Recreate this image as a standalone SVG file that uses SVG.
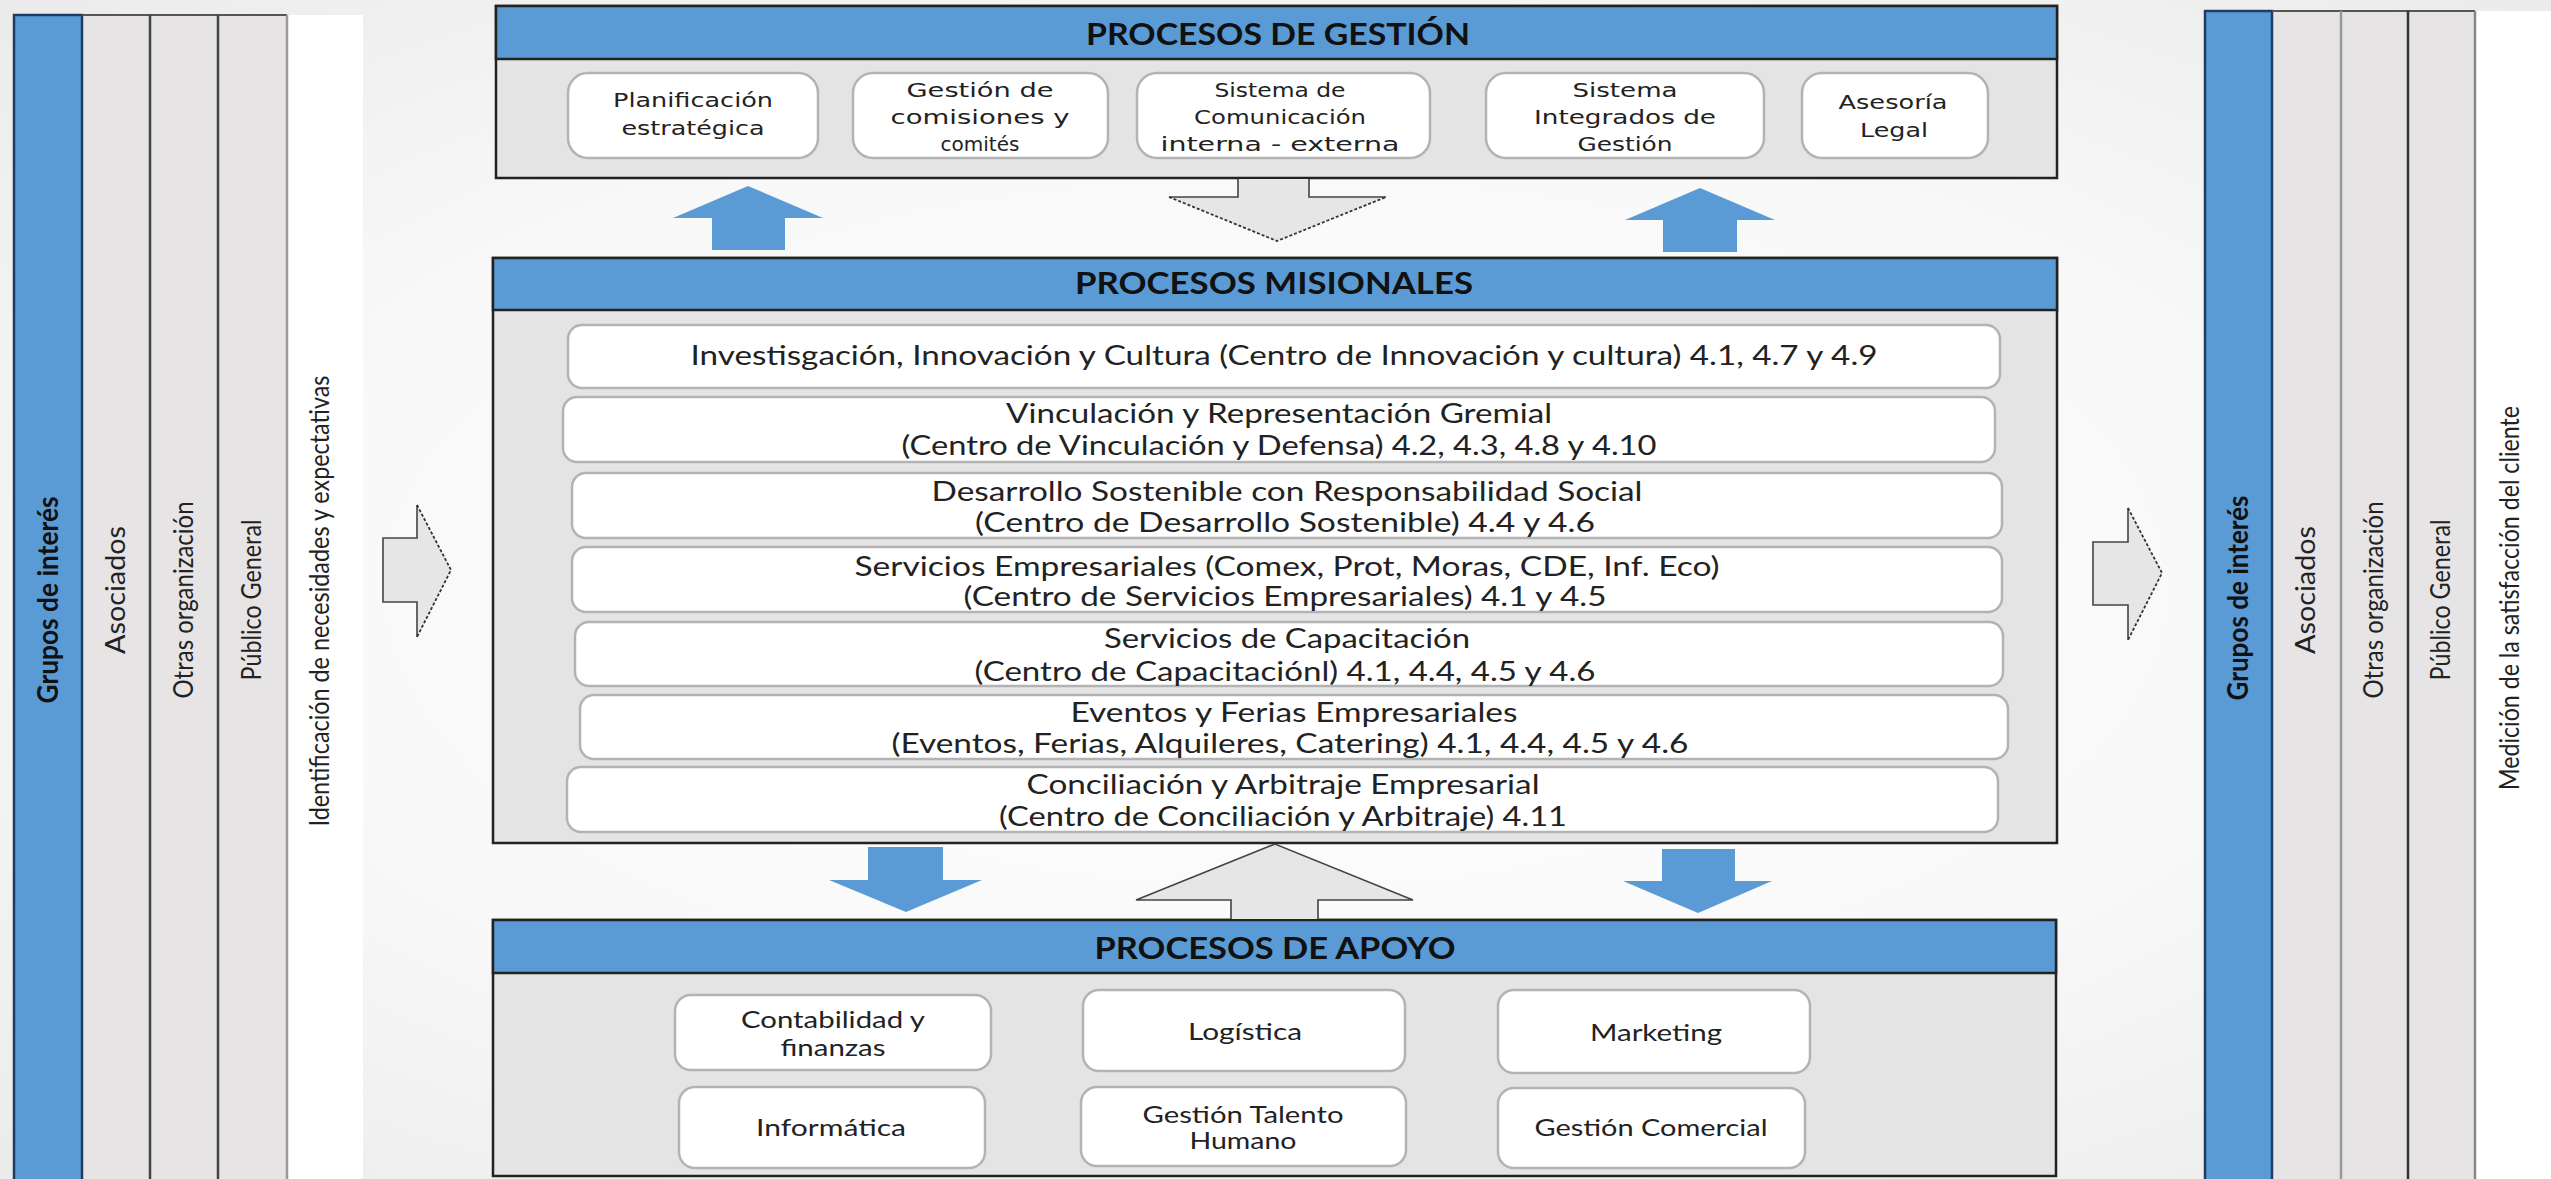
<svg xmlns="http://www.w3.org/2000/svg" width="2551" height="1179" viewBox="0 0 2551 1179">
<defs>
<radialGradient id="bg" cx="50%" cy="50%" r="75%">
<stop offset="0" stop-color="#ffffff"/>
<stop offset="0.55" stop-color="#f8f8f8"/>
<stop offset="1" stop-color="#e9e9e9"/>
</radialGradient>
<style>
.blue{fill:#5b9bd5}
.col{fill:#e6e4e5}
.body{fill:#e4e4e4;stroke:#222;stroke-width:2.5}
.hdr{fill:#5b9bd5;stroke:#222;stroke-width:2.5}
.card{fill:#ffffff;stroke:#b3b3b3;stroke-width:2.5}
.barrow{fill:#5b9bd5}
.garrow{fill:#e6e6e6;stroke:none}
.gline{fill:none;stroke:#444;stroke-width:1.6}
.gdash{fill:none;stroke:#333;stroke-width:1.8;stroke-dasharray:3 2}
.title{font-family:Lato,"Open Sans",sans-serif;font-weight:bold;font-size:30px;fill:#111;text-anchor:middle}
.tb{font-family:"DejaVu Sans","Open Sans",sans-serif;font-size:20px;fill:#222;text-anchor:middle}
.tm{font-family:Lato,"Open Sans",sans-serif;font-size:27px;fill:#222;text-anchor:middle}
.ta{font-family:Lato,"Open Sans",sans-serif;font-size:24px;fill:#222;text-anchor:middle}
.tv{font-family:Lato,"Open Sans",sans-serif;font-size:26px;fill:#222;text-anchor:middle}
.tvb{font-family:Lato,"Open Sans",sans-serif;font-size:28px;font-weight:bold;fill:#111;text-anchor:middle}
</style>
</defs>
<rect x="0" y="0" width="2551" height="1179" fill="url(#bg)"/>

<!-- LEFT stakeholder columns -->
<g id="left-columns">
<rect x="287" y="15" width="76" height="1170" fill="#ffffff"/>
<rect x="82" y="15" width="205" height="1170" class="col"/>
<rect x="14" y="15" width="68" height="1170" class="blue" stroke="#1f3d60" stroke-width="2.5"/>
<line x1="82" y1="15" x2="287" y2="15" stroke="#555" stroke-width="2"/>
<line x1="150" y1="15" x2="150" y2="1179" stroke="#444" stroke-width="2.5"/>
<line x1="218" y1="15" x2="218" y2="1179" stroke="#444" stroke-width="2.5"/>
<line x1="287" y1="15" x2="287" y2="1179" stroke="#999" stroke-width="2.5"/>
<text class="tvb" transform="translate(48,600) rotate(-90)" y="10" textLength="207" lengthAdjust="spacingAndGlyphs">Grupos de interés</text>
<text class="tv" transform="translate(116,590) rotate(-90)" y="9" textLength="128" lengthAdjust="spacingAndGlyphs">Asociados</text>
<text class="tv" transform="translate(184,600) rotate(-90)" y="9" textLength="197" lengthAdjust="spacingAndGlyphs">Otras organización</text>
<text class="tv" transform="translate(252,600) rotate(-90)" y="9" textLength="161" lengthAdjust="spacingAndGlyphs">Público General</text>
<text class="tv" transform="translate(320,601) rotate(-90)" y="9" textLength="451" lengthAdjust="spacingAndGlyphs">Identificación de necesidades y expectativas</text>
</g>

<!-- RIGHT stakeholder columns -->
<g id="right-columns">
<rect x="2475" y="11" width="76" height="1170" fill="#ffffff"/>
<rect x="2272" y="11" width="203" height="1170" class="col"/>
<rect x="2205" y="11" width="67" height="1170" class="blue" stroke="#1f3d60" stroke-width="2.5"/>
<line x1="2272" y1="11" x2="2475" y2="11" stroke="#555" stroke-width="2"/>
<line x1="2341" y1="11" x2="2341" y2="1179" stroke="#999" stroke-width="2.5"/>
<line x1="2408" y1="11" x2="2408" y2="1179" stroke="#333" stroke-width="2.5"/>
<line x1="2475" y1="11" x2="2475" y2="1179" stroke="#888" stroke-width="2.5"/>
<text class="tvb" transform="translate(2238,598) rotate(-90)" y="10" textLength="205" lengthAdjust="spacingAndGlyphs">Grupos de interés</text>
<text class="tv" transform="translate(2306,590) rotate(-90)" y="9" textLength="128" lengthAdjust="spacingAndGlyphs">Asociados</text>
<text class="tv" transform="translate(2374,600) rotate(-90)" y="9" textLength="197" lengthAdjust="spacingAndGlyphs">Otras organización</text>
<text class="tv" transform="translate(2441,600) rotate(-90)" y="9" textLength="161" lengthAdjust="spacingAndGlyphs">Público General</text>
<text class="tv" transform="translate(2510,598) rotate(-90)" y="9" textLength="384" lengthAdjust="spacingAndGlyphs">Medición de la satisfacción del cliente</text>
</g>

<!-- PROCESOS DE GESTIÓN -->
<g id="procesos-gestion">
<rect x="496" y="6" width="1561" height="172" class="body"/>
<rect x="496" y="6" width="1561" height="53" class="hdr"/>
<text class="title" x="1278" y="45" textLength="384" lengthAdjust="spacingAndGlyphs">PROCESOS DE GESTIÓN</text>
</g>
<g id="planificacion">
<rect x="568" y="73" width="250" height="85" rx="20" class="card"/>
<text class="tb" x="693" y="107" textLength="160" lengthAdjust="spacingAndGlyphs">Planificación</text>
<text class="tb" x="693" y="135" textLength="143" lengthAdjust="spacingAndGlyphs">estratégica</text>
</g>
<g id="gestion-comisiones">
<rect x="853" y="73" width="255" height="85" rx="20" class="card"/>
<text class="tb" x="980" y="97" textLength="147" lengthAdjust="spacingAndGlyphs">Gestión de</text>
<text class="tb" x="980" y="124" textLength="179" lengthAdjust="spacingAndGlyphs">comisiones y</text>
<text class="tb" x="980" y="151">comités</text>
</g>
<g id="sistema-comunicacion">
<rect x="1137" y="73" width="293" height="85" rx="20" class="card"/>
<text class="tb" x="1280" y="97" textLength="131" lengthAdjust="spacingAndGlyphs">Sistema de</text>
<text class="tb" x="1280" y="124" textLength="172" lengthAdjust="spacingAndGlyphs">Comunicación</text>
<text class="tb" x="1280" y="151" textLength="239" lengthAdjust="spacingAndGlyphs">interna - externa</text>
</g>
<g id="sistema-integrados">
<rect x="1486" y="73" width="278" height="85" rx="20" class="card"/>
<text class="tb" x="1625" y="97" textLength="105" lengthAdjust="spacingAndGlyphs">Sistema</text>
<text class="tb" x="1625" y="124" textLength="182" lengthAdjust="spacingAndGlyphs">Integrados de</text>
<text class="tb" x="1625" y="151" textLength="95" lengthAdjust="spacingAndGlyphs">Gestión</text>
</g>
<g id="asesoria-legal">
<rect x="1802" y="73" width="186" height="85" rx="20" class="card"/>
<text class="tb" x="1893" y="109" textLength="109" lengthAdjust="spacingAndGlyphs">Asesoría</text>
<text class="tb" x="1894" y="137" textLength="68" lengthAdjust="spacingAndGlyphs">Legal</text>
</g>

<!-- PROCESOS MISIONALES -->
<g id="procesos-misionales">
<rect x="493" y="258" width="1564" height="585" class="body"/>
<rect x="493" y="258" width="1564" height="52" class="hdr"/>
<text class="title" x="1274" y="294" font-size="28" textLength="398" lengthAdjust="spacingAndGlyphs">PROCESOS MISIONALES</text>
</g>
<g id="m1">
<rect x="568" y="325" width="1432" height="63" rx="14" class="card"/>
<text class="tm" x="1284" y="365" textLength="1187" lengthAdjust="spacingAndGlyphs">Investisgación, Innovación y Cultura (Centro de Innovación y cultura) 4.1, 4.7 y 4.9</text>
</g>
<g id="m2">
<rect x="563" y="397" width="1432" height="65" rx="14" class="card"/>
<text class="tm" x="1279" y="423" textLength="546" lengthAdjust="spacingAndGlyphs">Vinculación y Representación Gremial</text>
<text class="tm" x="1279" y="455" textLength="755" lengthAdjust="spacingAndGlyphs">(Centro de Vinculación y Defensa) 4.2, 4.3, 4.8 y 4.10</text>
</g>
<g id="m3">
<rect x="572" y="473" width="1430" height="65" rx="14" class="card"/>
<text class="tm" x="1287" y="501" textLength="711" lengthAdjust="spacingAndGlyphs">Desarrollo Sostenible con Responsabilidad Social</text>
<text class="tm" x="1285" y="532" textLength="620" lengthAdjust="spacingAndGlyphs">(Centro de Desarrollo Sostenible) 4.4 y 4.6</text>
</g>
<g id="m4">
<rect x="572" y="547" width="1430" height="65" rx="14" class="card"/>
<text class="tm" x="1287" y="576" textLength="865" lengthAdjust="spacingAndGlyphs">Servicios Empresariales (Comex, Prot, Moras, CDE, Inf. Eco)</text>
<text class="tm" x="1285" y="606" textLength="643" lengthAdjust="spacingAndGlyphs">(Centro de Servicios Empresariales) 4.1 y 4.5</text>
</g>
<g id="m5">
<rect x="575" y="622" width="1428" height="64" rx="14" class="card"/>
<text class="tm" x="1287" y="648" textLength="366" lengthAdjust="spacingAndGlyphs">Servicios de Capacitación</text>
<text class="tm" x="1285" y="681" textLength="621" lengthAdjust="spacingAndGlyphs">(Centro de Capacitaciónl)  4.1, 4.4, 4.5 y 4.6</text>
</g>
<g id="m6">
<rect x="580" y="695" width="1428" height="64" rx="14" class="card"/>
<text class="tm" x="1294" y="722" textLength="447" lengthAdjust="spacingAndGlyphs">Eventos y Ferias Empresariales</text>
<text class="tm" x="1290" y="753" textLength="797" lengthAdjust="spacingAndGlyphs">(Eventos, Ferias, Alquileres, Catering)  4.1, 4.4, 4.5 y 4.6</text>
</g>
<g id="m7">
<rect x="567" y="767" width="1431" height="65" rx="14" class="card"/>
<text class="tm" x="1283" y="794" textLength="513" lengthAdjust="spacingAndGlyphs">Conciliación y Arbitraje Empresarial</text>
<text class="tm" x="1283" y="826" textLength="568" lengthAdjust="spacingAndGlyphs">(Centro de Conciliación y Arbitraje) 4.11</text>
</g>

<!-- PROCESOS DE APOYO -->
<g id="procesos-apoyo">
<rect x="493" y="920" width="1563" height="256" class="body"/>
<rect x="493" y="920" width="1563" height="53" class="hdr"/>
<text class="title" x="1275" y="959" textLength="361" lengthAdjust="spacingAndGlyphs">PROCESOS DE APOYO</text>
</g>
<g id="contabilidad">
<rect x="675" y="995" width="316" height="75" rx="16" class="card"/>
<text class="ta" x="833" y="1028" textLength="184" lengthAdjust="spacingAndGlyphs">Contabilidad y</text>
<text class="ta" x="833" y="1056" textLength="105" lengthAdjust="spacingAndGlyphs">finanzas</text>
</g>
<g id="logistica">
<rect x="1083" y="990" width="322" height="81" rx="16" class="card"/>
<text class="ta" x="1245" y="1040" textLength="114" lengthAdjust="spacingAndGlyphs">Logística</text>
</g>
<g id="marketing">
<rect x="1498" y="990" width="312" height="83" rx="16" class="card"/>
<text class="ta" x="1656" y="1041" textLength="132" lengthAdjust="spacingAndGlyphs">Marketing</text>
</g>
<g id="informatica">
<rect x="679" y="1087" width="306" height="81" rx="16" class="card"/>
<text class="ta" x="831" y="1136" textLength="150" lengthAdjust="spacingAndGlyphs">Informática</text>
</g>
<g id="talento-humano">
<rect x="1081" y="1087" width="325" height="79" rx="16" class="card"/>
<text class="ta" x="1243" y="1123" textLength="201" lengthAdjust="spacingAndGlyphs">Gestión Talento</text>
<text class="ta" x="1243" y="1149" textLength="107" lengthAdjust="spacingAndGlyphs">Humano</text>
</g>
<g id="gestion-comercial">
<rect x="1498" y="1088" width="307" height="80" rx="16" class="card"/>
<text class="ta" x="1651" y="1136" textLength="233" lengthAdjust="spacingAndGlyphs">Gestión Comercial</text>
</g>

<!-- Connectors (block arrows) -->
<g id="connectors">
<polygon class="barrow" points="748,186 823,218 785,218 785,250 712,250 712,218 673,218"/>
<polygon class="barrow" points="1700,188 1775,220 1737,220 1737,252 1663,252 1663,220 1625,220"/>
<polygon class="garrow" points="1238,179 1309,179 1309,197 1386,197 1277,241 1169,197 1238,197"/>
<polyline class="gline" points="1238,179 1238,197 1169,197"/>
<polyline class="gline" points="1309,179 1309,197 1386,197"/>
<polyline class="gdash" points="1169,197 1277,241 1386,197"/>
<polygon class="barrow" points="868,847 943,847 943,880 982,880 906,912 829,880 868,880"/>
<polygon class="barrow" points="1662,849 1735,849 1735,881 1772,881 1698,913 1623,881 1662,881"/>
<polygon class="garrow" points="1275,844 1413,900 1318,900 1318,919 1231,919 1231,900 1136,900"/>
<polyline class="gline" points="1231,919 1231,900 1136,900 1275,844 1413,900 1318,900 1318,919"/>
<polygon class="garrow" points="383,538 417,538 417,505 451,570 417,637 417,602 383,602"/>
<polyline class="gline" points="417,505 417,538 383,538 383,602 417,602 417,637"/>
<polyline class="gdash" points="417,505 451,570 417,637"/>
<polygon class="garrow" points="2093,542 2128,542 2128,508 2162,573 2128,640 2128,605 2093,605"/>
<polyline class="gline" points="2128,508 2128,542 2093,542 2093,605 2128,605 2128,640"/>
<polyline class="gdash" points="2128,508 2162,573 2128,640"/>
</g>
</svg>
